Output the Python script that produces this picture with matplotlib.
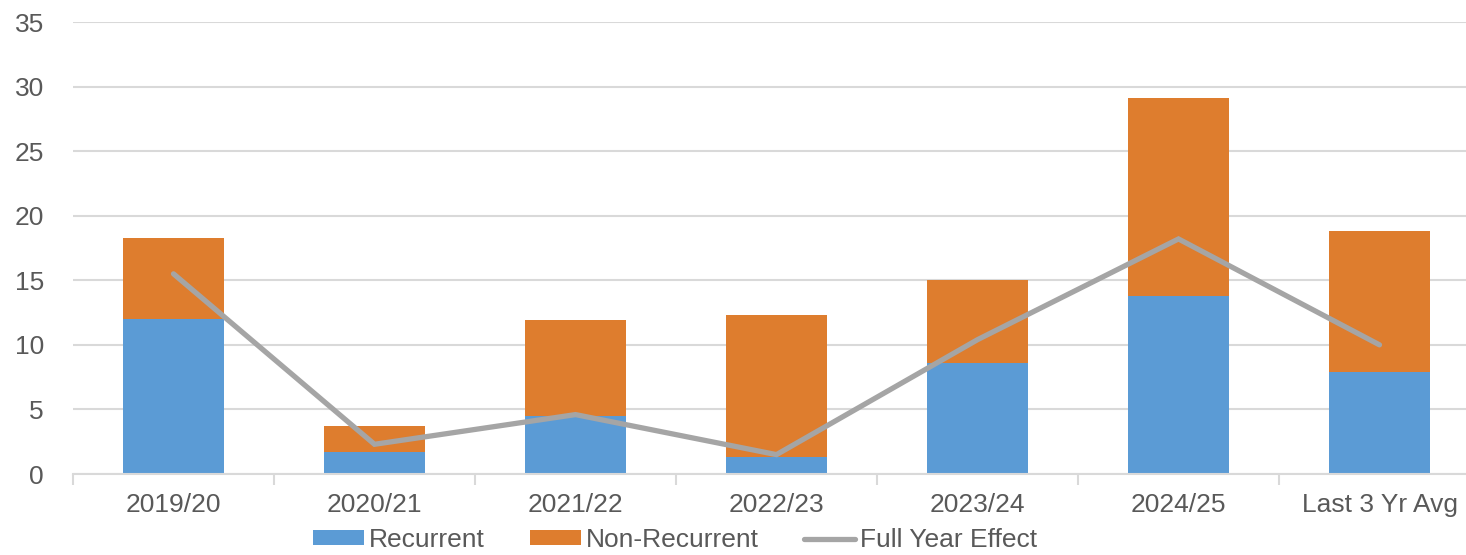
import matplotlib
matplotlib.use("Agg")
import matplotlib.pyplot as plt
import numpy as np
from matplotlib.patches import Patch
from matplotlib.lines import Line2D

categories = ["2019/20", "2020/21", "2021/22", "2022/23", "2023/24", "2024/25", "Last 3 Yr Avg"]
recurrent = [12.0, 1.7, 4.5, 1.3, 8.6, 13.8, 7.9]
non_recurrent_top = [18.3, 3.75, 11.9, 12.3, 15.0, 29.1, 18.8]
non_recurrent = [t - r for t, r in zip(non_recurrent_top, recurrent)]
full_year_effect = [15.5, 2.3, 4.6, 1.5, 10.4, 18.2, 10.0]
y_ticks = [0, 5, 10, 15, 20, 25, 30, 35]

plt.rcParams['font.family'] = ['Liberation Sans', 'DejaVu Sans']

FS = 19
fig = plt.figure(figsize=(14.66, 5.55), dpi=100)
ax = fig.add_axes([73/1466, 81/555, (1480-73)/1466, (474-22)/555])

x = np.arange(len(categories))
blue = "#5B9BD5"
orange = "#DE7D2E"
grey = "#A5A5A5"
ax.bar(x, recurrent, width=0.5, color=blue, zorder=2)
ax.bar(x, non_recurrent, width=0.5, bottom=recurrent, color=orange, zorder=2)
ax.plot(x, full_year_effect, color=grey, linewidth=3.8, solid_capstyle='round',
        solid_joinstyle='miter', zorder=3)

ax.set_xlim(-0.5, len(categories) - 0.5)
ax.set_ylim(0, 35)
ax.set_yticks(y_ticks)
ax.yaxis.grid(True, color="#D9D9D9", linewidth=1.5, zorder=0)
ax.set_axisbelow(True)
for s in ["top", "right", "left"]:
    ax.spines[s].set_visible(False)
ax.spines["bottom"].set_color("#D9D9D9")
ax.spines["bottom"].set_linewidth(1.5)

ax.set_xticks(x)
ax.set_xticklabels(categories)
ax.tick_params(axis='x', length=0, pad=14, labelsize=FS, labelcolor="#595959")
ax.set_xticks(np.arange(-0.5, len(categories), 1.0), minor=True)
ax.tick_params(axis='x', which='minor', length=8, width=1.5, color="#D9D9D9")
ax.tick_params(axis='y', length=0, pad=21, labelsize=FS, labelcolor="#595959")

handles = [Patch(facecolor=blue, edgecolor='none'),
           Patch(facecolor=orange, edgecolor='none'),
           Line2D([0], [0], color=grey, linewidth=3.8, solid_capstyle='round')]
fig.legend(handles, ["Recurrent", "Non-Recurrent", "Full Year Effect"],
           loc='center', bbox_to_anchor=(675/1466, 1 - 540/555), ncol=3, frameon=False,
           fontsize=FS, labelcolor="#595959", handlelength=1.93, handleheight=0.5,
           handletextpad=0.2, columnspacing=1.7, borderpad=0.0)

fig.savefig("out.png", dpi=100)
